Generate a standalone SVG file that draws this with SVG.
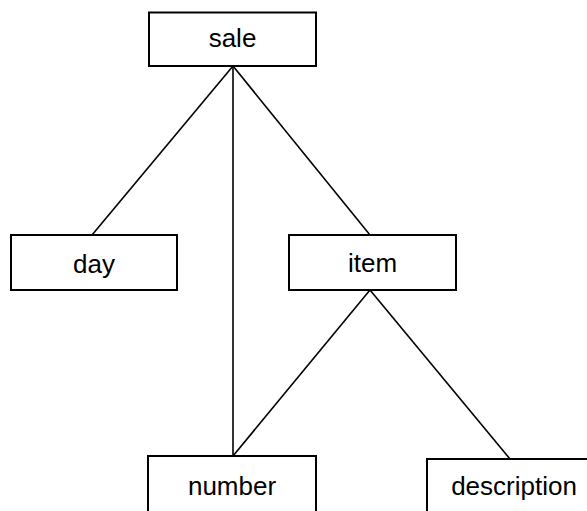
<svg xmlns="http://www.w3.org/2000/svg" width="587" height="511" viewBox="0 0 587 511">
<style>
.box{fill:#fff;stroke:#000;stroke-width:2}
.lbl{font-family:"Liberation Sans",Arial,sans-serif;font-size:26px;fill:#000;text-anchor:middle}
.edge{stroke:#000;stroke-width:1.6;fill:none}
</style>
<rect width="587" height="511" fill="#fff"/>
<g id="connectors">
<line class="edge" x1="233" y1="66" x2="92" y2="235"/>
<line class="edge" x1="233" y1="66" x2="233" y2="456"/>
<line class="edge" x1="233" y1="66" x2="370" y2="235"/>
<line class="edge" x1="370" y1="290" x2="233" y2="456"/>
<line class="edge" x1="370" y1="290" x2="510" y2="459"/>
</g>
<g id="sale"><rect class="box" x="149" y="12.5" width="167" height="53.5"/><text class="lbl" x="232.5" y="47">sale</text></g>
<g id="day"><rect class="box" x="11" y="235" width="166" height="55"/><text class="lbl" x="94" y="272.5">day</text></g>
<g id="item"><rect class="box" x="289" y="235" width="167" height="55"/><text class="lbl" x="372.5" y="272">item</text></g>
<g id="number"><rect class="box" x="148" y="456" width="168" height="60"/><text class="lbl" x="232" y="495">number</text></g>
<g id="description"><path class="box" d="M427,520 V459 H600"/><text class="lbl" x="514" y="495">description</text></g>
</svg>
